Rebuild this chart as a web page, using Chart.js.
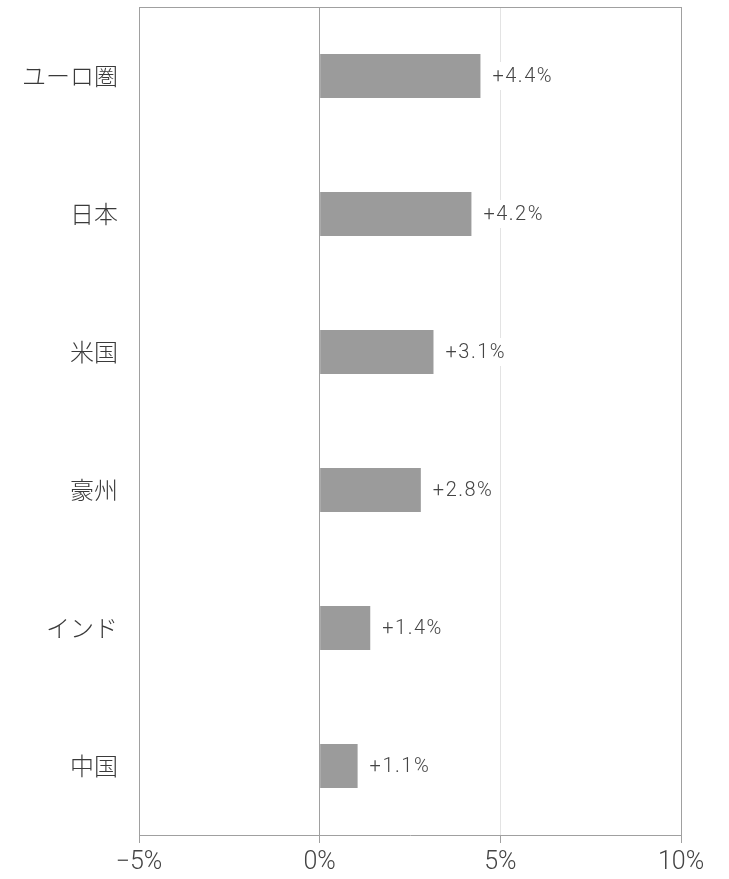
<!DOCTYPE html>
<html>
<head>
<meta charset="utf-8">
<script src="https://cdn.jsdelivr.net/npm/chart.js@4.4.1/dist/chart.umd.min.js"></script>
<style>
  html, body { margin: 0; padding: 0; background: #fff; }
  #wrap { width: 729px; height: 879px; }
</style>
</head>
<body>
<div id="wrap"><canvas id="chart"></canvas></div>
<script>
const categories = ["ユーロ圏", "日本", "米国", "豪州", "インド", "中国"];
const values = [4.45, 4.2, 3.15, 2.8, 1.4, 1.05];
const valueLabels = ["+4.4%", "+4.2%", "+3.1%", "+2.8%", "+1.4%", "+1.1%"];
const xTicks = [-5, 0, 5, 10];

const numFont = "'Roboto', sans-serif";
const jpFont = "'Noto Sans CJK JP', sans-serif";

// value labels on a white box, plus the top border of the plot
const barLabels = {
  id: "barLabels",
  afterDatasetsDraw(chart) {
    const ctx = chart.ctx;
    const area = chart.chartArea;
    ctx.save();
    ctx.strokeStyle = "#a0a0a0";
    ctx.lineWidth = 1;
    ctx.beginPath();
    ctx.moveTo(area.left, area.top + 0.5);
    ctx.lineTo(area.right, area.top + 0.5);
    ctx.stroke();

    ctx.font = "300 20px " + numFont;
    ctx.letterSpacing = "1.5px";
    ctx.textBaseline = "middle";
    ctx.textAlign = "left";
    chart.getDatasetMeta(0).data.forEach((bar, i) => {
      const txt = valueLabels[i];
      const w = ctx.measureText(txt).width;
      const x = bar.x + 12;
      ctx.fillStyle = "#fff";
      ctx.fillRect(x - 4, bar.y - 14, w + 8, 28);
      ctx.fillStyle = "#444";
      ctx.fillText(txt, x, bar.y + 1);
    });
    ctx.restore();
  }
};

new Chart(document.getElementById("chart").getContext("2d"), {
  type: "bar",
  data: {
    labels: categories,
    datasets: [{
      data: values,
      backgroundColor: "#9b9b9b",
      borderWidth: 0,
      barPercentage: 0.32,
      categoryPercentage: 1
    }]
  },
  options: {
    indexAxis: "y",
    responsive: true,
    maintainAspectRatio: false,
    animation: false,
    layout: { padding: { top: 7, right: 48, left: 0, bottom: 0 } },
    plugins: {
      legend: { display: false },
      tooltip: { enabled: false }
    },
    scales: {
      x: {
        min: -5,
        max: 10,
        afterBuildTicks: (axis) => { axis.ticks = xTicks.map((v) => ({ value: v })); },
        afterFit: (axis) => { axis.height = 44; axis.paddingLeft = 0; axis.paddingRight = 0; },
        grid: {
          color: (c) => (c.tick && (c.tick.value === 5) ? "#e3e3e3" : "#a0a0a0"),
          tickColor: "#a0a0a0",
          tickLength: 8,
          lineWidth: 1
        },
        border: { display: true, color: "#a0a0a0" },
        ticks: {
          padding: 5,
          color: "#444",
          font: { family: numFont, size: 25, weight: "300" },
          callback: (v) => (v < 0 ? "\u2212" + Math.abs(v) : v) + "%"
        }
      },
      y: {
        afterFit: (axis) => { axis.width = 139; axis.paddingTop = 0; axis.paddingBottom = 0; },
        grid: { display: false, drawTicks: false },
        border: { display: true, color: "#a0a0a0" },
        ticks: {
          padding: 21,
          color: "#3a3a3a",
          font: { family: jpFont, size: 24, weight: "300" }
        }
      }
    }
  },
  plugins: [barLabels]
});
</script>
</body>
</html>
